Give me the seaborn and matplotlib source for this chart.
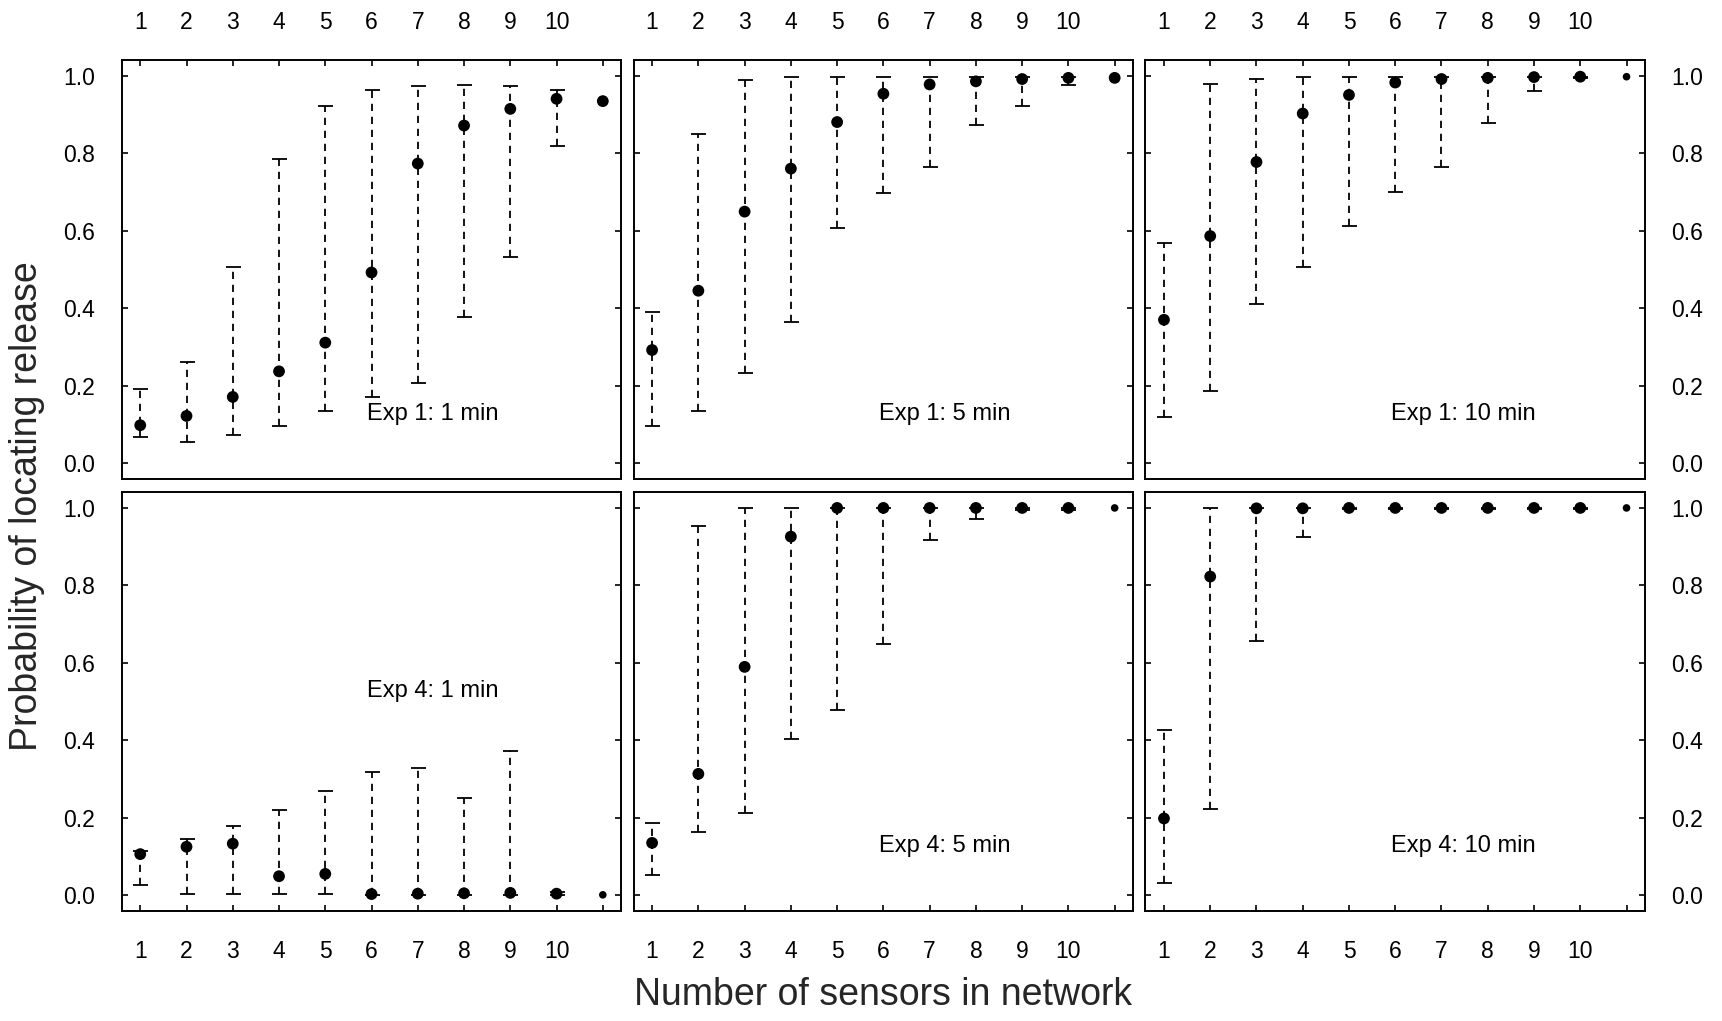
import numpy as np
import pandas as pd
import matplotlib
matplotlib.use('Agg')
from matplotlib import pyplot as plt
import seaborn as sns

nan = np.nan

# x axis: number of sensors (11th position has no tick label)
sensors = list(range(1, 12))
tick_labels = [str(i) for i in range(1, 11)] + ['']
y_ticks = [0.0, 0.2, 0.4, 0.6, 0.8, 1.0]

panel_names = ['Exp 1: 1 min', 'Exp 1: 5 min', 'Exp 1: 10 min',
               'Exp 4: 1 min', 'Exp 4: 5 min', 'Exp 4: 10 min']

# probability, lower and upper limits per panel
exp1_1_p = [0.098, 0.122, 0.171, 0.237, 0.311, 0.492, 0.773, 0.871, 0.914, 0.940, 0.934]
exp1_1_lo = [0.067, 0.056, 0.072, 0.095, 0.134, 0.172, 0.206, 0.376, 0.531, 0.819, nan]
exp1_1_hi = [0.191, 0.260, 0.506, 0.784, 0.922, 0.962, 0.974, 0.976, 0.974, 0.962, nan]

exp1_5_p = [0.292, 0.445, 0.649, 0.760, 0.880, 0.953, 0.977, 0.985, 0.991, 0.994, 0.994]
exp1_5_lo = [0.095, 0.134, 0.234, 0.364, 0.606, 0.698, 0.765, 0.873, 0.921, 0.976, nan]
exp1_5_hi = [0.390, 0.850, 0.989, 0.997, 0.997, 0.997, 0.997, 0.997, 0.997, 0.997, nan]

exp1_10_p = [0.370, 0.586, 0.777, 0.902, 0.950, 0.982, 0.991, 0.994, 0.996, 0.997, 0.997]
exp1_10_lo = [0.120, 0.187, 0.411, 0.506, 0.611, 0.699, 0.765, 0.878, 0.961, 0.994, nan]
exp1_10_hi = [0.569, 0.977, 0.991, 0.997, 0.997, 0.997, 0.997, 0.997, 0.997, 0.997, nan]

exp4_1_p = [0.106, 0.125, 0.133, 0.049, 0.055, 0.003, 0.004, 0.005, 0.006, 0.004, 0.001]
exp4_1_lo = [0.026, 0.002, 0.002, 0.002, 0.002, 0.0, 0.0, 0.0, 0.0, 0.0, nan]
exp4_1_hi = [0.115, 0.144, 0.178, 0.221, 0.270, 0.319, 0.327, 0.252, 0.371, 0.009, nan]

exp4_5_p = [0.135, 0.313, 0.589, 0.925, 0.999, 0.999, 0.999, 0.999, 0.999, 0.999, 0.999]
exp4_5_lo = [0.051, 0.162, 0.211, 0.402, 0.478, 0.649, 0.916, 0.970, 0.993, 0.994, nan]
exp4_5_hi = [0.186, 0.953, 0.999, 1.0, 1.0, 1.0, 1.0, 1.0, 1.0, 1.0, nan]

exp4_10_p = [0.198, 0.822, 0.998, 0.998, 0.999, 0.999, 0.999, 0.999, 0.999, 0.999, 0.999]
exp4_10_lo = [0.032, 0.223, 0.657, 0.925, 0.995, 0.996, 0.996, 0.996, 0.996, 0.996, nan]
exp4_10_hi = [0.426, 1.0, 1.0, 1.0, 1.0, 1.0, 1.0, 1.0, 1.0, 1.0, nan]

series = [
    (exp1_1_p, exp1_1_lo, exp1_1_hi),
    (exp1_5_p, exp1_5_lo, exp1_5_hi),
    (exp1_10_p, exp1_10_lo, exp1_10_hi),
    (exp4_1_p, exp4_1_lo, exp4_1_hi),
    (exp4_5_p, exp4_5_lo, exp4_5_hi),
    (exp4_10_p, exp4_10_lo, exp4_10_hi),
]

frames = []
for name, (p, lo, hi) in zip(panel_names, series):
    frames.append(pd.DataFrame({'panel': name, 'n': sensors, 'p': p, 'lo': lo, 'hi': hi}))
df = pd.concat(frames, ignore_index=True)

# styling
label_y = {'Exp 4: 1 min': 0.527}
small_last = ['Exp 1: 10 min', 'Exp 4: 1 min', 'Exp 4: 5 min', 'Exp 4: 10 min']

sns.set_theme(style='white')
plt.rcParams['font.family'] = ['Liberation Sans', 'DejaVu Sans']

fig, axes = plt.subplots(2, 3, figsize=(17.22, 10.21), dpi=100)
plt.subplots_adjust(left=0.0707, right=0.9553, top=0.9412, bottom=0.1080,
                    wspace=0.0246, hspace=0.0318)

for i, name in enumerate(panel_names):
    ax = axes.flat[i]
    row, col = divmod(i, 3)
    sub = df[df['panel'] == name]

    # error bars: dashed stems, solid caps
    eb = ax.errorbar(sub['n'], sub['p'], yerr=[sub['p'] - sub['lo'], sub['hi'] - sub['p']],
                     fmt='none', ecolor='black', elinewidth=1.3, capsize=5.4,
                     capthick=1.3, zorder=2)
    for lc in eb[2]:
        lc.set_linestyle((0, (4, 3.2)))

    sizes = [72] * 10 + [30 if name in small_last else 72]
    sns.scatterplot(x=sub['n'], y=sub['p'], ax=ax, color='black', s=sizes,
                    linewidth=0, zorder=3, legend=False)

    ax.set_xlim(0.6, 11.4)
    ax.set_ylim(-0.04, 1.04)
    ax.set_xlabel('')
    ax.set_ylabel('')

    ax.text(5.9, label_y.get(name, 0.127), name, ha='left', va='center',
            fontsize=17, color='black')

    for s in ax.spines.values():
        s.set_color('black')
        s.set_linewidth(1.4)

    ax.set_xticks(sensors)
    ax.set_xticklabels(tick_labels)
    ax.set_yticks(y_ticks)
    ax.set_yticklabels(['0.0', '0.2', '0.4', '0.6', '0.8', '1.0'])

    ax.tick_params(axis='both', direction='in', length=4.5, width=1.2,
                   color='black', labelsize=16.5, labelcolor='black')
    if row == 0:
        ax.tick_params(axis='x', top=True, bottom=False, labeltop=True,
                       labelbottom=False, pad=19)
    else:
        ax.tick_params(axis='x', top=False, bottom=True, labeltop=False,
                       labelbottom=True, pad=21)
    ax.tick_params(axis='y', left=True, right=True,
                   labelleft=(col == 0), labelright=(col == 2), pad=19)

fig.text(883 / 1722, 1 - 995 / 1021, 'Number of sensors in network', ha='center',
         va='center', fontsize=27)
fig.text(27 / 1722, 1 - 505.7 / 1021, 'Probability of locating release', ha='center',
         va='center', rotation=90, fontsize=27)

fig.savefig('out.png', dpi=100)
